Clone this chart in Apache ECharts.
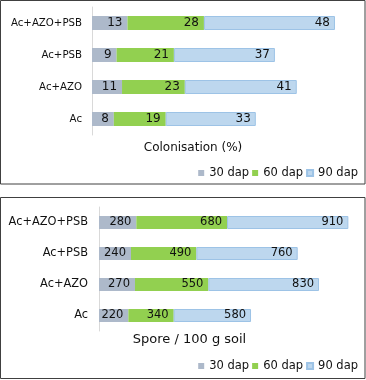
<!DOCTYPE html>
<html>
<head>
<meta charset="utf-8">
<script src="https://cdn.jsdelivr.net/npm/echarts@6/dist/echarts.min.js"></script>
<style>html,body{margin:0;padding:0;background:#fff}#c{width:366px;height:380px}</style>
</head>
<body>
<div id="c"></div>
<script>
const categories = ['Ac', 'Ac+AZO', 'Ac+PSB', 'Ac+AZO+PSB'];
const seriesNames = ['30 dap', '60 dap', '90 dap'];
const colon30 = [8, 11, 9, 13];
const colon60 = [19, 23, 21, 28];
const colon90 = [33, 41, 37, 48];
const spore30 = [220, 270, 240, 280];
const spore60 = [340, 550, 490, 680];
const spore90 = [580, 830, 760, 910];
const titleTop = 'Colonisation (%)';
const titleBottom = 'Spore / 100 g soil';

const FONT = '"DejaVu Sans", Verdana, sans-serif';
const TXT = '#111111';
const colors = ['#ADB9CA', '#92D050', '#BDD7EE'];
const borders = [null, null, '#9DC3E6'];

function mk(name, data, idx, stack, gridIdx, bw, fs) {
  return {
    name: name, type: 'bar', stack: stack, data: data,
    xAxisIndex: gridIdx, yAxisIndex: gridIdx, barWidth: bw,
    itemStyle: { color: colors[idx], borderColor: borders[idx] || colors[idx], borderWidth: borders[idx] ? 1 : 0 },
    label: { show: true, position: 'insideRight', distance: 5, color: TXT, fontFamily: FONT, fontSize: fs },
    emphasis: { disabled: true }, animation: false
  };
}

const chart = echarts.init(document.getElementById('c'), null, { renderer: 'canvas' });
chart.setOption({
  animation: false,
  grid: [
    { left: 92, top: 7, width: 273, height: 128 },
    { left: 99, top: 207, width: 266.7, height: 124 }
  ],
  xAxis: [
    { gridIndex: 0, type: 'value', min: 0, max: 100, show: false },
    { gridIndex: 1, type: 'value', min: 0, max: 2000, show: false }
  ],
  yAxis: [
    { gridIndex: 0, type: 'category', data: categories,
      axisLine: { show: true, lineStyle: { color: '#D9D9D9', width: 1 } }, axisTick: { show: false },
      axisLabel: { margin: 10, color: TXT, fontFamily: FONT, fontSize: 10.2 } },
    { gridIndex: 1, type: 'category', data: categories,
      axisLine: { show: true, lineStyle: { color: '#D9D9D9', width: 1 } }, axisTick: { show: false },
      axisLabel: { margin: 11, color: TXT, fontFamily: FONT, fontSize: 11.4 } }
  ],
  legend: [
    { data: seriesNames, right: 3, top: 162, itemWidth: 6, itemHeight: 6, itemGap: 3, icon: 'rect',
      textStyle: { fontFamily: FONT, fontSize: 11.5, color: TXT }, selectedMode: false },
    { data: seriesNames, right: 3, top: 355, itemWidth: 6, itemHeight: 6, itemGap: 3, icon: 'rect',
      textStyle: { fontFamily: FONT, fontSize: 11.5, color: TXT }, selectedMode: false }
  ],
  graphic: [
    { type: 'rect', shape: { x: 0.5, y: 0.5, width: 364.5, height: 183.5 }, style: { fill: null, stroke: '#404040', lineWidth: 1 }, silent: true },
    { type: 'rect', shape: { x: 0.5, y: 197.5, width: 364.5, height: 181 }, style: { fill: null, stroke: '#404040', lineWidth: 1 }, silent: true },
    { type: 'text', x: 193, y: 148, style: { text: titleTop, fontFamily: FONT, fontSize: 12, fill: TXT, textAlign: 'center', textVerticalAlign: 'middle' }, silent: true },
    { type: 'text', x: 189.5, y: 340, style: { text: titleBottom, fontFamily: FONT, fontSize: 13, fill: TXT, textAlign: 'center', textVerticalAlign: 'middle' }, silent: true }
  ],
  series: [
    mk(seriesNames[0], colon30, 0, 'a', 0, 14, 12),
    mk(seriesNames[1], colon60, 1, 'a', 0, 14, 12),
    mk(seriesNames[2], colon90, 2, 'a', 0, 14, 12),
    mk(seriesNames[0], spore30, 0, 'b', 1, 13, 11.5),
    mk(seriesNames[1], spore60, 1, 'b', 1, 13, 11.5),
    mk(seriesNames[2], spore90, 2, 'b', 1, 13, 11.5)
  ]
});
</script>
</body>
</html>
